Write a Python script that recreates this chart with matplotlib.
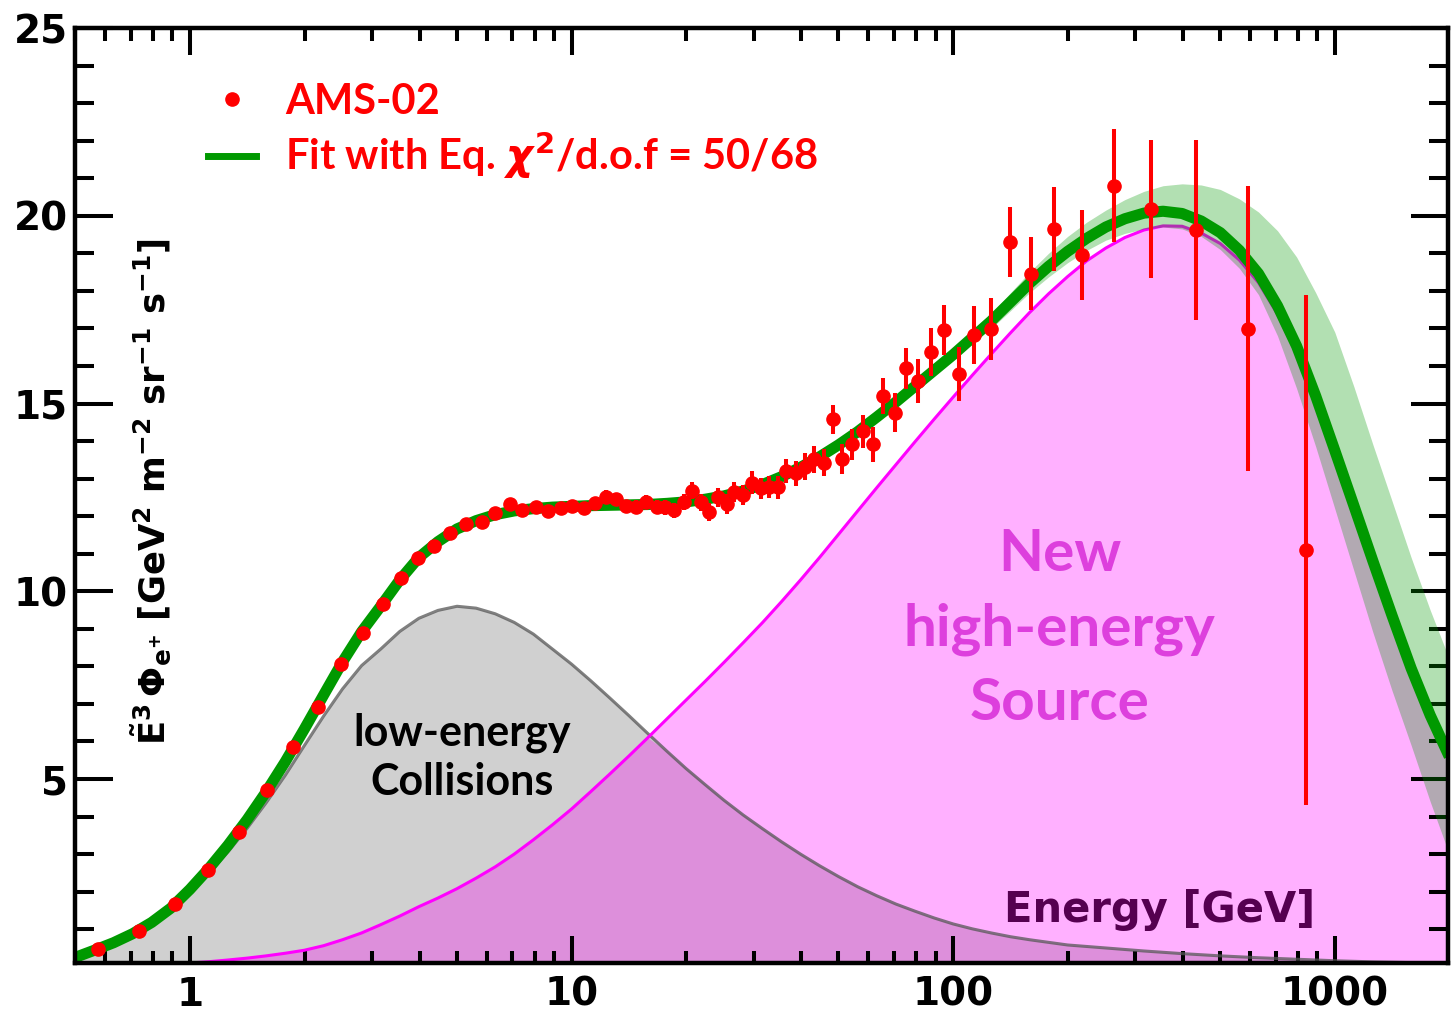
import numpy as np
import matplotlib
matplotlib.use('Agg')
import matplotlib.pyplot as plt
from matplotlib.ticker import FixedLocator, MultipleLocator, LogLocator, NullFormatter
from matplotlib.lines import Line2D

plt.rcParams['font.family'] = ['DejaVu Sans']
plt.rcParams['font.weight'] = 'bold'
plt.rcParams['mathtext.default'] = 'bf'

# AMS-02 positron points: energy [GeV], E^3 flux, error
ams_e = [0.573, 0.734, 0.916, 1.117, 1.341, 1.597, 1.864, 2.16, 2.49, 2.84,
         3.20, 3.57, 3.95, 4.36, 4.80, 5.29, 5.81, 6.30, 6.88, 7.43,
         8.05, 8.69, 9.36, 10.04, 10.77, 11.5, 12.3, 13.1, 13.9, 14.8,
         15.7, 16.7, 17.6, 18.6, 19.7, 20.7, 21.8, 22.9, 24.2, 25.5,
         26.6, 28.1, 29.7, 31.3, 33.0, 34.7, 36.5, 38.7, 40.8, 43.1,
         45.8, 48.3, 51.2, 54.3, 57.9, 61.5, 65.5, 70.2, 75.3, 80.9,
         87.4, 94.9, 103.3, 113.7, 126, 141.3, 160, 184, 218, 264,
         330, 432, 592, 840]
ams_flux = [0.46, 0.95, 1.67, 2.59, 3.58, 4.72, 5.84, 6.92, 8.06, 8.90,
            9.65, 10.34, 10.88, 11.21, 11.55, 11.79, 11.85, 12.09, 12.32, 12.16,
            12.25, 12.15, 12.22, 12.28, 12.22, 12.34, 12.52, 12.45, 12.26, 12.24,
            12.37, 12.24, 12.24, 12.16, 12.38, 12.68, 12.37, 12.10, 12.50, 12.33,
            12.65, 12.56, 12.89, 12.74, 12.78, 12.77, 13.21, 13.14, 13.32, 13.51,
            13.42, 14.58, 13.51, 13.91, 14.26, 13.91, 15.20, 14.76, 15.94, 15.60,
            16.37, 16.96, 15.79, 16.82, 16.98, 19.29, 18.46, 19.65, 18.96, 20.80,
            20.18, 19.62, 16.99, 11.10]
ams_err = [0.02, 0.03, 0.04, 0.05, 0.06, 0.07, 0.08, 0.09, 0.10, 0.10,
           0.11, 0.11, 0.11, 0.12, 0.12, 0.12, 0.12, 0.13, 0.13, 0.13,
           0.14, 0.14, 0.15, 0.15, 0.16, 0.16, 0.17, 0.17, 0.18, 0.18,
           0.19, 0.19, 0.20, 0.20, 0.21, 0.22, 0.23, 0.24, 0.25, 0.26,
           0.27, 0.27, 0.30, 0.28, 0.30, 0.31, 0.32, 0.33, 0.35, 0.36,
           0.36, 0.39, 0.40, 0.42, 0.44, 0.46, 0.49, 0.51, 0.55, 0.58,
           0.63, 0.66, 0.72, 0.78, 0.83, 0.93, 0.98, 1.12, 1.20, 1.50,
           1.84, 2.40, 3.80, 6.80]

# model curves
curve_e = [0.501, 0.562, 0.631, 0.708, 0.794, 0.891, 1.0, 1.122, 1.259, 1.413,
           1.585, 1.778, 1.995, 2.239, 2.512, 2.818, 3.162, 3.548, 3.981, 4.467,
           5.012, 5.623, 6.310, 7.079, 7.943, 8.913, 10.0, 11.22, 12.59, 14.13,
           15.85, 17.78, 19.95, 22.39, 25.12, 28.18, 31.62, 35.48, 39.81, 44.67,
           50.12, 56.23, 63.10, 70.79, 79.43, 89.13, 100, 112.2, 125.9, 141.3,
           158.5, 177.8, 199.5, 223.9, 251.2, 281.8, 316.2, 354.8, 398.1, 446.7,
           501.2, 562.3, 631.0, 707.9, 794.3, 891.3, 1000, 1122, 1259, 1413,
           1585, 1778, 1995]
fit_total = [0.25, 0.44, 0.64, 0.88, 1.18, 1.56, 2.06, 2.62, 3.24, 3.92,
             4.66, 5.46, 6.33, 7.23, 8.12, 8.92, 9.6, 10.3, 10.9, 11.32,
             11.66, 11.88, 12.04, 12.14, 12.2, 12.24, 12.26, 12.28, 12.29, 12.3,
             12.31, 12.34, 12.38, 12.45, 12.54, 12.67, 12.84, 13.05, 13.3, 13.58,
             13.9, 14.25, 14.64, 15.04, 15.46, 15.88, 16.3, 16.75, 17.2, 17.7,
             18.2, 18.65, 19.05, 19.4, 19.7, 19.92, 20.07, 20.12, 20.06, 19.86,
             19.55, 19.08, 18.46, 17.6, 16.53, 15.2, 13.75, 12.28, 10.8, 9.35,
             7.95, 6.7, 5.6]
low_energy = [0.23, 0.42, 0.61, 0.84, 1.13, 1.49, 1.96, 2.49, 3.06, 3.69,
              4.37, 5.1, 5.89, 6.67, 7.4, 8.02, 8.46, 8.93, 9.28, 9.49,
              9.6, 9.55, 9.4, 9.17, 8.86, 8.46, 8.06, 7.62, 7.16, 6.69,
              6.21, 5.74, 5.28, 4.85, 4.43, 4.04, 3.68, 3.33, 3.0, 2.69,
              2.4, 2.13, 1.89, 1.67, 1.48, 1.3, 1.14, 1.01, 0.9, 0.8,
              0.72, 0.65, 0.58, 0.54, 0.5, 0.46, 0.42, 0.385, 0.35, 0.32,
              0.29, 0.265, 0.24, 0.22, 0.2, 0.18, 0.16, 0.145, 0.13, 0.12,
              0.11, 0.1, 0.09]
new_source = [0.02, 0.025, 0.03, 0.04, 0.055, 0.075, 0.1, 0.135, 0.18, 0.23,
              0.29, 0.36, 0.44, 0.56, 0.72, 0.9, 1.12, 1.35, 1.6, 1.83,
              2.08, 2.36, 2.66, 3.0, 3.38, 3.78, 4.2, 4.66, 5.13, 5.61,
              6.1, 6.6, 7.1, 7.6, 8.11, 8.63, 9.16, 9.72, 10.3, 10.9,
              11.52, 12.14, 12.76, 13.37, 13.98, 14.58, 15.17, 15.75, 16.32, 16.88,
              17.42, 17.92, 18.38, 18.8, 19.14, 19.42, 19.62, 19.73, 19.72, 19.54,
              19.26, 18.82, 18.22, 17.38, 16.33, 15.02, 13.59, 12.14, 10.67, 9.23,
              7.84, 6.6, 5.51]

# fit uncertainty band (from 100 GeV up)
band_e = [100, 112.2, 125.9, 141.3, 158.5, 177.8, 199.5, 223.9, 251.2, 281.8,
          316.2, 354.8, 398.1, 446.7, 501.2, 562.3, 631.0, 707.9, 794.3, 891.3,
          1000, 1122, 1259, 1413, 1585, 1778, 1995]
band_lo = [16.2, 16.6, 17.0, 17.47, 17.95, 18.37, 18.75, 19.08, 19.35, 19.53,
           19.65, 19.7, 19.65, 19.45, 19.1, 18.6, 17.9, 16.8, 15.4, 13.85,
           12.2, 10.55, 8.9, 7.35, 5.9, 4.4, 3.0]
band_hi = [16.4, 16.9, 17.4, 17.95, 18.5, 19.0, 19.45, 19.83, 20.15, 20.43,
           20.65, 20.8, 20.85, 20.82, 20.7, 20.45, 20.1, 19.6, 18.9, 17.95,
           16.9, 15.45, 13.9, 12.4, 10.9, 9.5, 8.2]

fig = plt.figure(figsize=(14.52, 10.16), dpi=100)
ax = fig.add_axes([75 / 1452, 53 / 1016, 1373 / 1452, 935 / 1016])

# filled components
overlap = np.minimum(low_energy, new_source)
ax.fill_between(curve_e, 0, new_source, color='#ffb0ff', lw=0, zorder=1)
ax.fill_between(curve_e, 0, low_energy, color='#d0d0d0', lw=0, zorder=1)
ax.fill_between(curve_e, 0, overlap, color='#dd8fdb', lw=0, zorder=1.5)
ax.plot(curve_e, low_energy, color='#555555', lw=2.2, alpha=0.75, zorder=2)
ax.plot(curve_e, new_source, color='#ff00ff', lw=2.2, zorder=2)

# band + fit
ax.fill_between(band_e, band_lo, band_hi, color='#009900', alpha=0.3, lw=0, zorder=3)
ax.plot(curve_e, fit_total, color='#009900', lw=8, solid_capstyle='butt', zorder=4)

# data
ax.errorbar(ams_e, ams_flux, yerr=ams_err, fmt='o', color='#ff0000', ms=9.5,
            elinewidth=2.9, capsize=0, zorder=5)

ax.set_xscale('log')
ax.set_xlim(0.5, 1980)
ax.set_ylim(0.1, 25)

ax.xaxis.set_major_locator(FixedLocator([1, 10, 100, 1000]))
ax.set_xticklabels(['1', '10', '100', '1000'])
ax.xaxis.set_minor_locator(LogLocator(base=10, subs=np.arange(2, 10)))
ax.xaxis.set_minor_formatter(NullFormatter())
ax.yaxis.set_major_locator(FixedLocator([5, 10, 15, 20, 25]))
ax.yaxis.set_minor_locator(MultipleLocator(1))

ax.tick_params(which='both', direction='in', top=True, right=True, width=2.9,
               labelsize=28)
ax.tick_params(axis='y', which='major', length=27, pad=5)
ax.tick_params(axis='y', which='minor', length=14)
ax.tick_params(axis='x', which='major', length=19.5, pad=9)
ax.tick_params(axis='x', which='minor', length=9)
for sp in ax.spines.values():
    sp.set_linewidth(3.2)
    sp.set_zorder(10)

# labels inside the frame
ax.text(0.055, 0.504, r'$\tilde{E}^{3}\,\Phi_{e^{+}}$ [GeV$^{2}$ m$^{-2}$ sr$^{-1}$ s$^{-1}$]',
        transform=ax.transAxes, rotation=90, ha='center', va='center',
        fontsize=25.5, zorder=6)
ax.text(348, 1.5, 'Energy [GeV]', ha='center', va='center', fontsize=30,
        color='#550050', zorder=6)
ax.text(5.18, 5.58, 'low-energy\nCollisions', ha='center', va='center',
        family='Lato', fontsize=31, color='black', linespacing=1.3, zorder=6)
ax.text(190, 9.0, 'New\nhigh-energy\nSource', ha='center', va='center',
        family='Lato', fontsize=42, color='#dd3fdd', linespacing=1.5, zorder=6)

handles = [Line2D([], [], ls='none', marker='o', color='#ff0000', ms=9.5),
           Line2D([], [], color='#009900', lw=5)]
labels = ['AMS-02', r'Fit with Eq. $\mathit{\chi}^{2}$/d.o.f = 50/68']
ax.legend(handles, labels, loc='upper left', bbox_to_anchor=(0.0969, 0.9417),
          frameon=False, labelcolor='#ff0000', handlelength=1.15,
          handletextpad=0.7, labelspacing=0.22, borderpad=0, borderaxespad=0,
          prop={'family': 'Lato', 'weight': 'bold', 'size': 30})

fig.savefig('out.png', dpi=100)
